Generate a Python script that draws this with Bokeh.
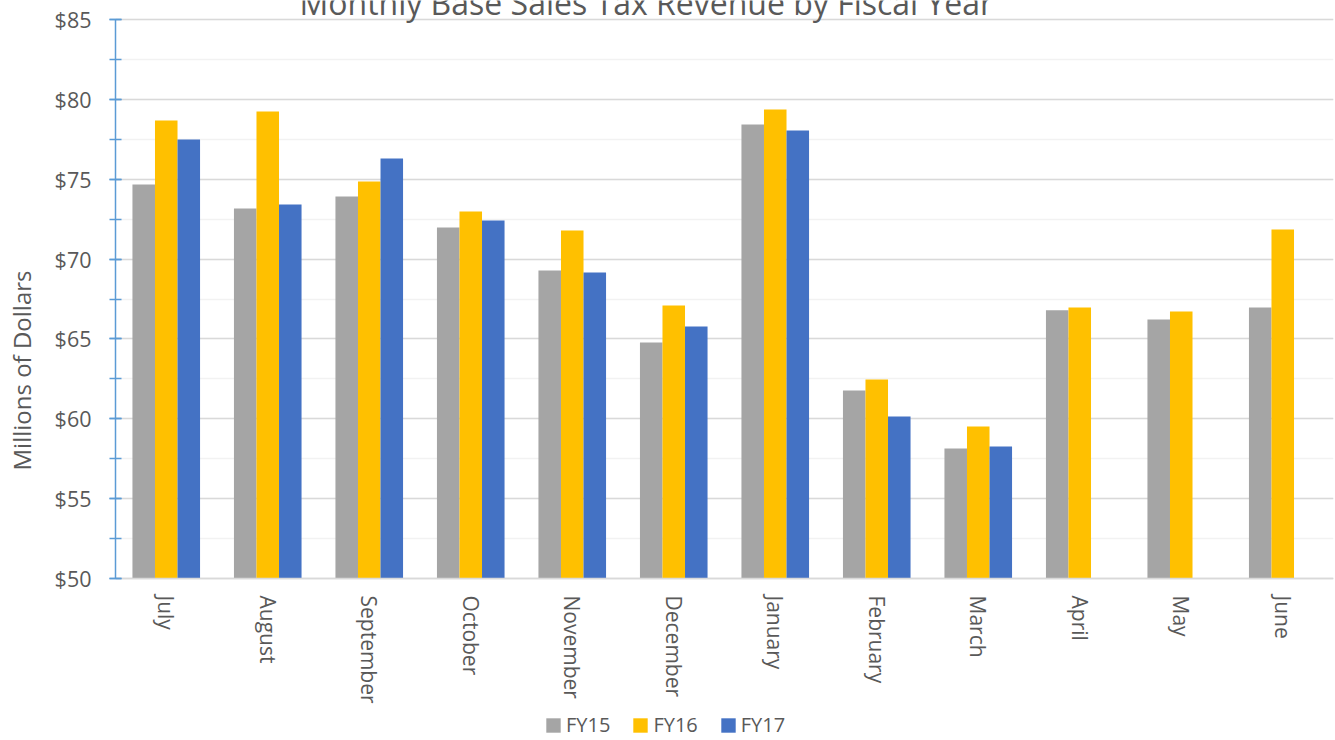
import math
from bokeh.plotting import figure
from bokeh.models import (ColumnDataSource, FactorRange, Range1d, Legend, LegendItem,
                          SingleIntervalTicker, NumeralTickFormatter, Label, LinearAxis,
                          FixedTicker)
from bokeh.transform import dodge
from bokeh.embed import file_html
from bokeh.resources import INLINE

months = ["July", "August", "September", "October", "November", "December",
          "January", "February", "March", "April", "May", "June"]
fy15 = [74.67, 73.17, 73.92, 71.98, 69.29, 64.78, 78.43, 61.77, 58.14, 66.80, 66.22, 66.97]
fy16 = [78.68, 79.24, 74.86, 72.98, 71.79, 67.09, 79.37, 62.46, 59.52, 66.97, 66.72, 71.85]
fy17_months = months[:9]
fy17 = [77.49, 73.42, 76.30, 72.42, 69.16, 65.78, 78.05, 60.14, 58.27]
series_names = ["FY15", "FY16", "FY17"]
colors = ["#A5A5A5", "#FFC000", "#4472C4"]
y_min, y_max = 50, 85

FONT = "Open Sans"
TXT = "#595959"

W, H = 1335, 740
TOP, LEFT = 19, 115
PLOT_H = 559  # pixel height of the $50..$85 band
per_px = (y_max - y_min) / PLOT_H
y_start = y_max - per_px * (H - TOP)
y_end = y_max + per_px * TOP

p = figure(width=W, height=H, x_range=FactorRange(*months), y_range=Range1d(y_start, y_end),
           output_backend="svg", toolbar_location=None,
           min_border_left=LEFT, min_border_right=2, min_border_top=0, min_border_bottom=0)
p.outline_line_color = None
p.background_fill_color = "white"

bw = 0.222
src15 = ColumnDataSource(dict(x=months, top=fy15))
src16 = ColumnDataSource(dict(x=months, top=fy16))
src17 = ColumnDataSource(dict(x=fy17_months, top=fy17))
r15 = p.vbar(x=dodge("x", -bw, range=p.x_range), top="top", bottom=y_min, width=bw,
             source=src15, fill_color=colors[0], line_color=None)
r16 = p.vbar(x=dodge("x", 0, range=p.x_range), top="top", bottom=y_min, width=bw,
             source=src16, fill_color=colors[1], line_color=None)
r17 = p.vbar(x=dodge("x", bw, range=p.x_range), top="top", bottom=y_min, width=bw,
             source=src17, fill_color=colors[2], line_color=None)

# y axis
ya = p.yaxis[0]
ya.bounds = (y_min, y_max)
ya.ticker = SingleIntervalTicker(interval=5, num_minor_ticks=2)
ya.formatter = NumeralTickFormatter(format="$0")
ya.axis_line_color = "#5B9BD5"
ya.axis_line_width = 1.5
ya.major_tick_line_color = "#5B9BD5"
ya.minor_tick_line_color = "#5B9BD5"
ya.major_tick_line_width = 1.5
ya.minor_tick_line_width = 1.5
ya.major_tick_in = 6
ya.major_tick_out = 6
ya.minor_tick_in = 6
ya.minor_tick_out = 6
ya.major_label_standoff = 18
ya.major_label_text_font = FONT
ya.major_label_text_font_size = "21.5px"
ya.major_label_text_color = TXT

# axis title carried by a bare second axis, centred like the reference
title_axis = LinearAxis(bounds=(42.3, y_max), ticker=FixedTicker(ticks=[]),
                        axis_line_color=None, major_tick_line_color=None,
                        minor_tick_line_color=None, major_tick_out=0, major_tick_in=0,
                        minor_tick_out=0, minor_tick_in=0, major_label_standoff=0,
                        axis_label="Millions of Dollars", axis_label_standoff=14,
                        axis_label_text_font=FONT, axis_label_text_font_size="24px",
                        axis_label_text_font_style="normal", axis_label_text_color=TXT)
p.add_layout(title_axis, "left")

# x axis drawn at $50
xa = p.xaxis[0]
xa.fixed_location = y_min
xa.axis_line_color = "#D9D9D9"
xa.axis_line_width = 1.5
xa.major_tick_line_color = None
xa.minor_tick_line_color = None
xa.major_tick_out = 0
xa.major_tick_in = 0
xa.major_label_orientation = -math.pi / 2
xa.major_label_standoff = 17
xa.major_label_text_font = FONT
xa.major_label_text_font_size = "21px"
xa.major_label_text_color = TXT

# grids
p.xgrid.grid_line_color = None
p.ygrid.bounds = (y_min, y_max)
p.ygrid.grid_line_color = "#D9D9D9"
p.ygrid.grid_line_width = 1.5
p.ygrid.minor_grid_line_color = "#F2F2F2"
p.ygrid.minor_grid_line_width = 1.5

# title
title = Label(x=5.23, y=y_max, y_offset=17, text="Monthly Base Sales Tax Revenue by Fiscal Year",
              text_align="center", text_baseline="alphabetic", text_font=FONT,
              text_font_size="32px", text_color=TXT)
p.add_layout(title)

legend = Legend(items=[LegendItem(label=series_names[0], renderers=[r15]),
                       LegendItem(label=series_names[1], renderers=[r16]),
                       LegendItem(label=series_names[2], renderers=[r17])],
                orientation="horizontal", location=(429, 2),
                glyph_width=18, glyph_height=18, label_standoff=4, spacing=21,
                padding=3, margin=0, border_line_color=None, background_fill_alpha=0,
                label_text_font=FONT, label_text_font_size="20px", label_text_color=TXT)
p.add_layout(legend, "center")

open("out.html", "w").write(file_html(p, INLINE))
